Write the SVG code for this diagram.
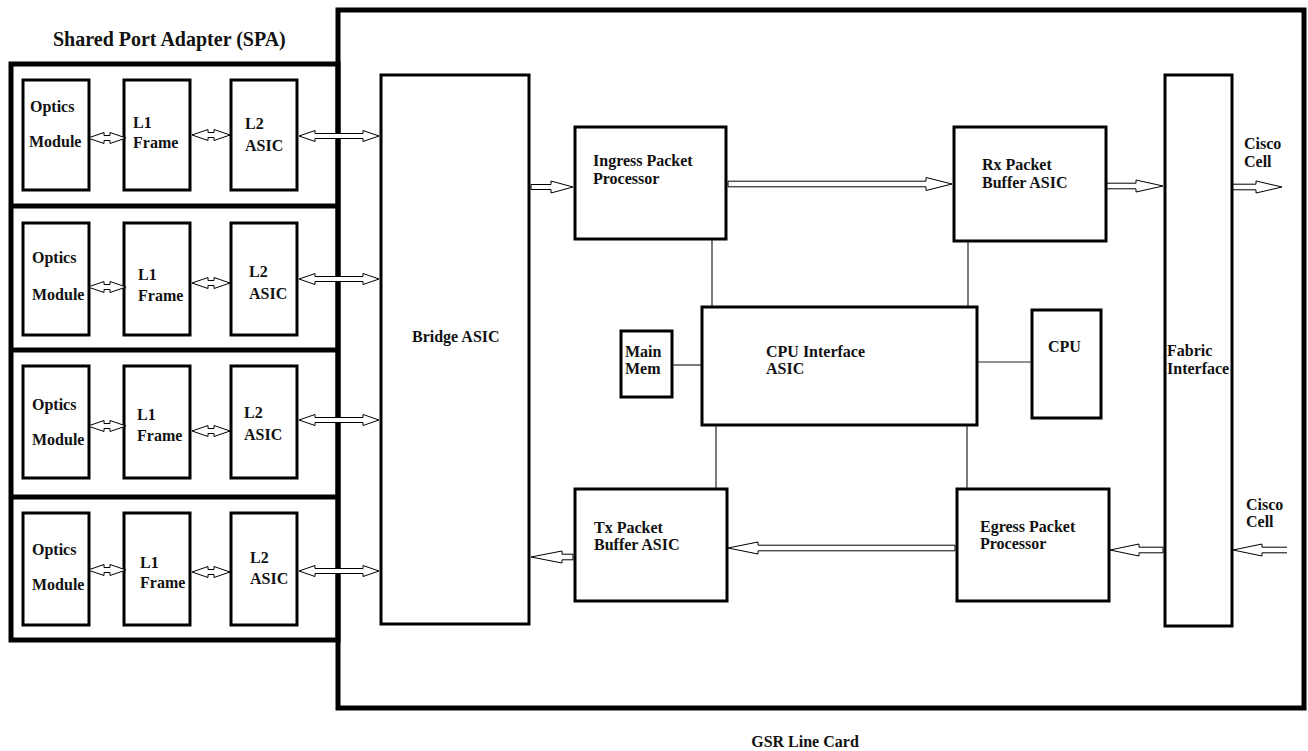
<svg xmlns="http://www.w3.org/2000/svg" xmlns:xlink="http://www.w3.org/1999/xlink" width="1308" height="751" viewBox="0 0 1308 751">
<style>
.frame{fill:none;stroke:#000;stroke-width:5}
.box{fill:#fff;stroke:#000;stroke-width:3}
.ln{fill:none;stroke:#222;stroke-width:1.2}
.arr{fill:#fff;stroke:#000;stroke-width:1}
.t{font-family:"Liberation Serif","Times New Roman",serif;font-weight:bold;font-size:16px;fill:#111}
.h{font-size:20px}
</style>
<defs>
<path id="d38" class="arr" d="M0,0 L16,-5.5 V-2.5 H22 V-5.5 L38,0 L22,5.5 V2.5 H16 V5.5 Z"/>
<path id="d80" class="arr" d="M0,0 L16,-5.5 V-2.5 H64 V-5.5 L80,0 L64,5.5 V2.5 H16 V5.5 Z"/>
</defs>
<rect width="1308" height="751" fill="#fff"/>

<g id="gsr-card">
<rect class="frame" x="338" y="10" width="966" height="698"/>
<text class="t" x="805" y="747" text-anchor="middle">GSR Line Card</text>
</g>

<g id="spa">
<text class="t h" x="53" y="46">Shared Port Adapter (SPA)</text>
<rect class="frame" x="11" y="64" width="327" height="576"/>
<line class="frame" x1="11" y1="206" x2="338" y2="206"/>
<line class="frame" x1="11" y1="350" x2="338" y2="350"/>
<line class="frame" x1="11" y1="497" x2="338" y2="497"/>
</g>

<g id="optics-1"><rect class="box" x="23" y="80" width="66" height="110"/><text class="t" x="30" y="112">Optics</text><text class="t" x="29" y="147">Module</text></g>
<g id="l1-1"><rect class="box" x="124" y="80" width="66" height="110"/><text class="t" x="133" y="128">L1</text><text class="t" x="133" y="148">Frame</text></g>
<g id="l2-1"><rect class="box" x="231" y="80" width="66" height="110"/><text class="t" x="245" y="129">L2</text><text class="t" x="245" y="151">ASIC</text></g>

<g id="optics-2"><rect class="box" x="23" y="223" width="66" height="112"/><text class="t" x="32" y="263">Optics</text><text class="t" x="32" y="300">Module</text></g>
<g id="l1-2"><rect class="box" x="124" y="223" width="66" height="112"/><text class="t" x="138" y="280">L1</text><text class="t" x="138" y="301">Frame</text></g>
<g id="l2-2"><rect class="box" x="231" y="223" width="66" height="112"/><text class="t" x="249" y="277">L2</text><text class="t" x="249" y="299">ASIC</text></g>

<g id="optics-3"><rect class="box" x="23" y="366" width="66" height="112"/><text class="t" x="32" y="410">Optics</text><text class="t" x="32" y="445">Module</text></g>
<g id="l1-3"><rect class="box" x="124" y="366" width="66" height="112"/><text class="t" x="137" y="420">L1</text><text class="t" x="137" y="441">Frame</text></g>
<g id="l2-3"><rect class="box" x="231" y="366" width="66" height="112"/><text class="t" x="244" y="418">L2</text><text class="t" x="244" y="440">ASIC</text></g>

<g id="optics-4"><rect class="box" x="23" y="513" width="66" height="112"/><text class="t" x="32" y="555">Optics</text><text class="t" x="32" y="590">Module</text></g>
<g id="l1-4"><rect class="box" x="124" y="513" width="66" height="112"/><text class="t" x="140" y="568">L1</text><text class="t" x="140" y="588">Frame</text></g>
<g id="l2-4"><rect class="box" x="231" y="513" width="66" height="112"/><text class="t" x="250" y="563">L2</text><text class="t" x="250" y="584">ASIC</text></g>

<g id="bridge-asic"><rect class="box" x="381" y="75" width="148" height="549"/><text class="t" x="412" y="342">Bridge ASIC</text></g>
<g id="ingress"><rect class="box" x="575" y="127" width="151" height="112"/><text class="t" x="593" y="166">Ingress Packet</text><text class="t" x="593" y="184">Processor</text></g>
<g id="rx-buffer"><rect class="box" x="954" y="127" width="152" height="114"/><text class="t" x="982" y="170">Rx Packet</text><text class="t" x="982" y="188">Buffer ASIC</text></g>
<g id="main-mem"><rect class="box" x="621" y="331" width="51" height="66"/><text class="t" x="625" y="357">Main</text><text class="t" x="625" y="374">Mem</text></g>
<g id="cpu-if"><rect class="box" x="702" y="307" width="275" height="118"/><text class="t" x="766" y="357">CPU Interface</text><text class="t" x="766" y="374">ASIC</text></g>
<g id="cpu"><rect class="box" x="1032" y="310" width="69" height="108"/><text class="t" x="1048" y="352">CPU</text></g>
<g id="fabric"><rect class="box" x="1165" y="75" width="67" height="551"/><text class="t" x="1167" y="356">Fabric</text><text class="t" x="1167" y="374">Interface</text></g>
<g id="tx-buffer"><rect class="box" x="575" y="489" width="152" height="112"/><text class="t" x="594" y="533">Tx Packet</text><text class="t" x="594" y="550">Buffer ASIC</text></g>
<g id="egress"><rect class="box" x="957" y="489" width="152" height="112"/><text class="t" x="980" y="532">Egress Packet</text><text class="t" x="980" y="549">Processor</text></g>
<g id="cisco-cell-out"><text class="t" x="1244" y="149">Cisco</text><text class="t" x="1244" y="167">Cell</text></g>
<g id="cisco-cell-in"><text class="t" x="1246" y="510">Cisco</text><text class="t" x="1246" y="527">Cell</text></g>

<g id="connectors">
<use href="#d38" x="88" y="138"/><use href="#d38" x="192" y="135"/><use href="#d80" x="299" y="136"/>
<use href="#d38" x="88" y="287"/><use href="#d38" x="192" y="283"/><use href="#d80" x="299" y="279"/>
<use href="#d38" x="88" y="426"/><use href="#d38" x="192" y="431"/><use href="#d80" x="299" y="420"/>
<use href="#d38" x="88" y="570"/><use href="#d38" x="192" y="572"/><use href="#d80" x="299" y="571"/>
<path class="arr" d="M531,184.5 H551 V181 L573,187 L551,193 V189.5 H531 Z"/>
<path class="arr" d="M728,181.2 H926 V177.5 L952,184 L926,190.5 V186.8 H728 Z"/>
<path class="arr" d="M1107,183.2 H1136 V180 L1163,186 L1136,192 V188.8 H1107 Z"/>
<path class="arr" d="M1233,184.2 H1256 V181 L1282,187 L1256,193 V189.8 H1233 Z"/>
<path class="arr" d="M1110,550 L1139,544 V547.2 H1163 V552.8 H1139 V556 Z"/>
<path class="arr" d="M1287,547.2 H1262 V544 L1233,550 L1262,556 V552.8 H1287"/>
<path class="arr" d="M728,548 L758,542 V545.2 H955 V550.8 H758 V554 Z"/>
<path class="arr" d="M531,557 L562,551 V554.2 H573 V559.8 H562 V563 Z"/>
<line class="ln" x1="712" y1="240" x2="712" y2="306"/>
<line class="ln" x1="968" y1="242" x2="968" y2="306"/>
<line class="ln" x1="716" y1="426" x2="716" y2="488"/>
<line class="ln" x1="967" y1="426" x2="967" y2="488"/>
<line class="ln" x1="673" y1="365" x2="701" y2="365"/>
<line class="ln" x1="978" y1="362" x2="1031" y2="362"/>
</g>
</svg>
